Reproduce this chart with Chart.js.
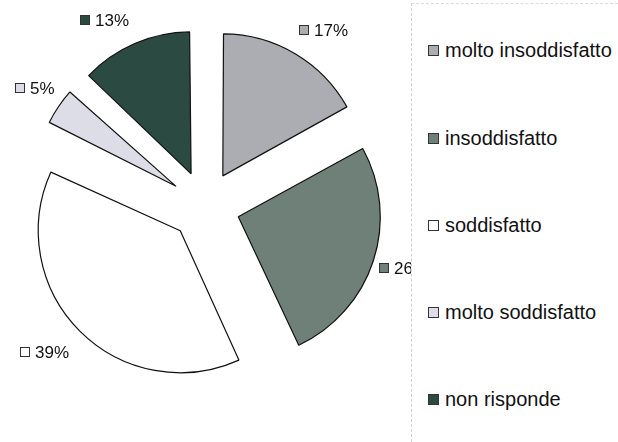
<!DOCTYPE html>
<html>
<head>
<meta charset="utf-8">
<script src="https://cdn.jsdelivr.net/npm/chart.js@4"></script>
<style>
  html, body { margin: 0; padding: 0; background: #fff; width: 618px; height: 442px; overflow: hidden; }
  #wrap { position: absolute; left: -1px; top: 0; width: 413px; height: 412px; }
  #legend { position: absolute; left: 411px; top: 3px; width: 207px; height: 439px; background: #fff;
            border-left: 1px dashed #d0d0d0; border-top: 1px dashed #dcdcdc; box-sizing: border-box;
            font-family: "Liberation Sans", Arial, sans-serif; font-size: 20px; color: #111; }
  .item { position: absolute; left: 16px; white-space: nowrap; line-height: 20px; }
  .box { display: inline-block; width: 9px; height: 9px; border: 1px solid #333; margin-right: 6px; vertical-align: 1px; }
</style>
</head>
<body>
<div id="wrap"><canvas id="c" width="412" height="412"></canvas></div>
<div id="legend"></div>
<script>
const categories = ["molto insoddisfatto", "insoddisfatto", "soddisfatto", "molto soddisfatto", "non risponde"];
const values = [17, 26, 39, 5, 13];
const labels = ["17%", "26%", "39%", "5%", "13%"];
const colors = ["#abadb2", "#6f8079", "#ffffff", "#dcdde6", "#2b4a41"];

const legendTops = [36, 124, 211, 298, 385];
const legend = document.getElementById('legend');
categories.forEach((c, i) => {
  const d = document.createElement('div');
  d.className = 'item';
  d.style.top = legendTops[i] + 'px';
  d.innerHTML = '<span class="box" style="background:' + colors[i] + '"></span>' + c;
  legend.appendChild(d);
});

const EXPLODE = 35;      // pixel distance each slice is pulled out
const LABEL_GAP = 34;    // distance of label centre beyond exploded rim
// small placement adjustments mimicking the original label layout
const labelNudge = [[11, 6], [-2, -3], [-11, -3], [4, 1], [-17, 8]];

// Chart.js enlarges narrow exploded arcs; keep every slice at the same radius
const equalRadiusPlugin = {
  id: 'equalRadius',
  beforeDatasetsDraw(chart) {
    const meta = chart.getDatasetMeta(0);
    const base = meta.controller.outerRadius;
    meta.data.forEach(arc => {
      const circ = arc.endAngle - arc.startAngle;
      const fix = 1 - Math.sin(Math.min(Math.PI, circ));
      arc.outerRadius = base - EXPLODE * fix;
    });
  }
};

const labelPlugin = {
  id: 'outLabels',
  afterDatasetsDraw(chart) {
    const ctx = chart.ctx;
    const meta = chart.getDatasetMeta(0);
    const base = meta.controller.outerRadius;
    ctx.save();
    ctx.font = '17px "Liberation Sans", Arial, sans-serif';
    ctx.textBaseline = 'middle';
    meta.data.forEach((arc, i) => {
      const a = (arc.startAngle + arc.endAngle) / 2;
      const r = base + EXPLODE + LABEL_GAP;
      const cx = arc.x + Math.cos(a) * r + labelNudge[i][0];
      const cy = arc.y + Math.sin(a) * r + labelNudge[i][1];
      const txt = labels[i];
      const tw = ctx.measureText(txt).width;
      const total = 10 + 5 + tw;
      const x0 = Math.round(cx - total / 2);
      const y0 = Math.round(cy);
      ctx.fillStyle = colors[i];
      ctx.fillRect(x0, y0 - 5, 9, 9);
      ctx.strokeStyle = '#333';
      ctx.lineWidth = 1;
      ctx.strokeRect(x0 + 0.5, y0 - 4.5, 9, 9);
      ctx.fillStyle = '#111';
      ctx.textAlign = 'left';
      ctx.fillText(txt, x0 + 15, y0 + 1);
    });
    ctx.restore();
  }
};

new Chart(document.getElementById('c'), {
  type: 'pie',
  data: {
    labels: categories,
    datasets: [{
      data: values,
      backgroundColor: colors,
      borderColor: '#111',
      borderWidth: 1.2,
      offset: EXPLODE * 4
    }]
  },
  options: {
    responsive: false,
    animation: false,
    radius: 142,
    layout: { padding: 0 },
    plugins: { legend: { display: false }, tooltip: { enabled: false } }
  },
  plugins: [equalRadiusPlugin, labelPlugin]
});
</script>
</body>
</html>
